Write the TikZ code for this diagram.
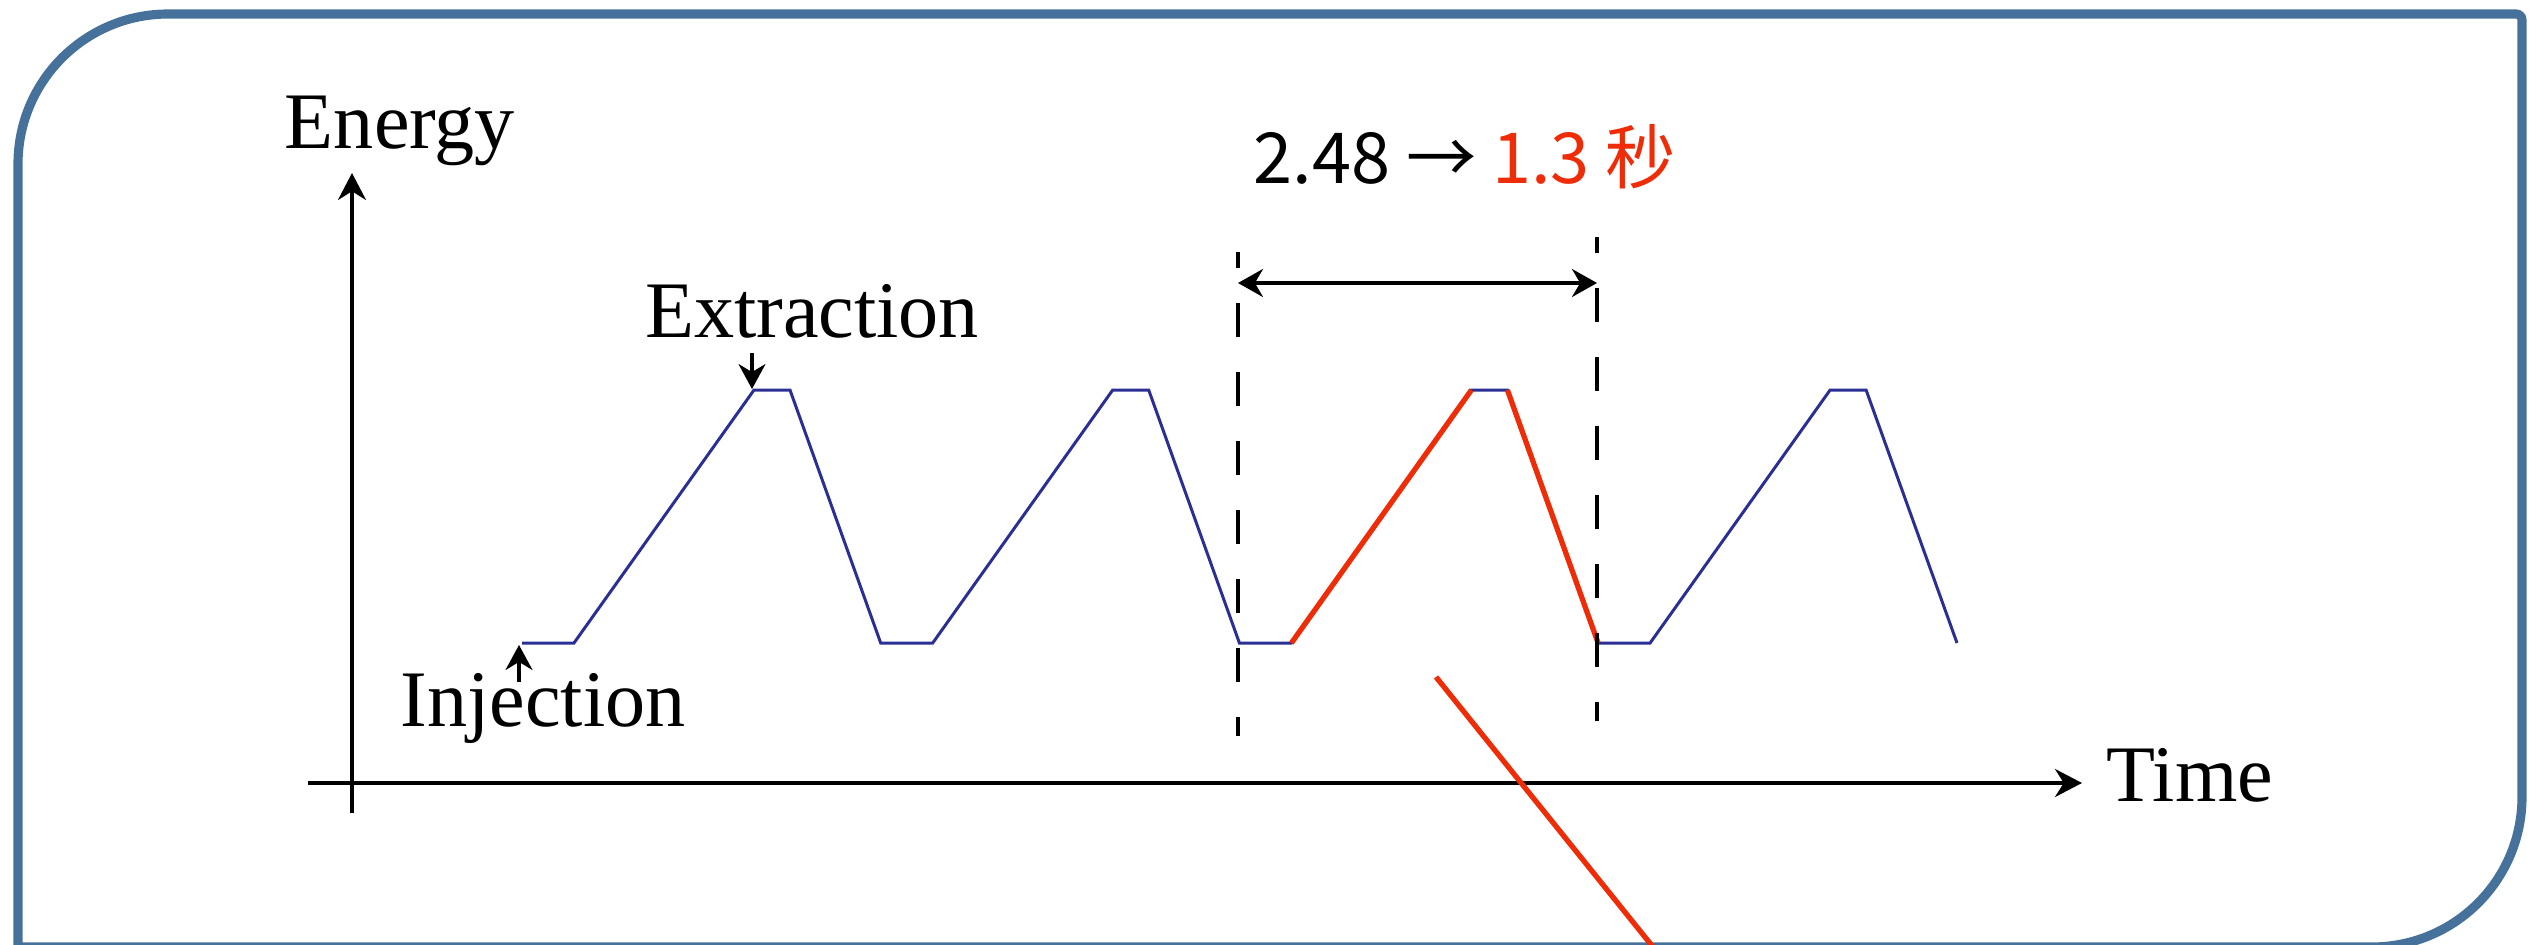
\documentclass[tikz,border=0pt]{standalone}
\usepackage{fontspec}
\setmainfont{Liberation Serif}
\newfontfamily\cjkfont{Noto Sans CJK SC}
\usepackage{tikz}
\usetikzlibrary{arrows.meta,positioning}
\usepackage{xcolor}
\definecolor{framecolor}{RGB}{70,113,155}
\definecolor{cyclecolor}{RGB}{43,47,147}
\definecolor{fastcolor}{RGB}{238,44,8}

\begin{document}
\begin{tikzpicture}[x=0.01cm, y=-0.01cm,
    frame/.style={draw=framecolor, line width=2.6pt},
    axis/.style={-{Stealth[length=0.27cm, width=0.28cm]}, line width=0.9pt},
    pointer/.style={-{Stealth[length=0.25cm, width=0.27cm]}, line width=0.9pt},
    span/.style={{Stealth[length=0.25cm, width=0.28cm]}-{Stealth[length=0.25cm, width=0.28cm]}, line width=0.9pt},
    marker/.style={line width=0.9pt, dash pattern=on 0.34cm off 0.35cm, dash phase=0.18cm},
    cycle/.style={draw=cyclecolor, line width=0.85pt},
    fast/.style={draw=fastcolor, line width=1.5pt},
    textlabel/.style={font=\fontsize{22.8}{27}\selectfont, inner sep=0pt},
    title/.style={font=\cjkfont\fontsize{20}{24}\selectfont, inner sep=0pt}
]
\useasboundingbox (0,0) rectangle (2541,945);

% Frame
\draw[frame] (18,947) [rounded corners=1.5cm] -- (18,14) [rounded corners=0.06cm] -- (2522,14)
    [rounded corners=1.5cm] -- (2522,947) [sharp corners] -- cycle;

% Axes
\coordinate (ybottom) at (352,813);
\coordinate (ytop) at (352,173);
\coordinate (xleft) at (308,783);
\coordinate (xright) at (2082,783);
\draw[axis] (ybottom) -- (ytop);
\draw[axis] (xleft) -- (xright);

% Axis labels
\node[textlabel, anchor=base] (energy) at (400,148) {Energy};
\node[textlabel, anchor=base west] (time) at (2106,801) {Time};

% Acceleration cycles
\foreach \i in {0,...,3} {
    \pgfmathsetmacro\xs{522+358.7*\i}
    \coordinate (lo\i) at (\xs,643);
    \coordinate (up\i) at (\xs+52,643);
    \coordinate (top\i) at (\xs+232,390);
    \coordinate (dn\i) at (\xs+268,390);
}
\coordinate (last) at (1957,643);
\draw[cycle] (lo0) -- (up0) -- (top0) -- (dn0) -- (lo1) -- (up1) -- (top1) -- (dn1)
    -- (lo2) -- (up2) -- (top2) -- (dn2) -- (lo3) -- (up3) -- (top3) -- (dn3) -- (last);
\draw[fast] (up2) -- (top2);
\draw[fast] (dn2) -- (lo3);

% Injection and extraction
\node[textlabel, anchor=base] (injection) at (543,726) {Injection};
\node[textlabel, anchor=base] (extraction) at (812,337) {Extraction};
\coordinate (injtail) at (519,682);
\coordinate (injtip) at (519,645);
\coordinate (exttail) at (752,353);
\coordinate (exttip) at (752,389);
\draw[pointer] (injtail) -- (injtip);
\draw[pointer] (exttail) -- (exttip);

% Period markers
\coordinate (lefttop) at (1238,252);
\coordinate (leftbot) at (1238,736);
\coordinate (righttop) at (1597,237);
\coordinate (rightbot) at (1597,721);
\draw[marker] (lefttop) -- (leftbot);
\draw[marker] (righttop) -- (rightbot);
\coordinate (spanL) at (1238,283);
\coordinate (spanR) at (1597,283);
\draw[span] (spanL) -- (spanR);
\node[title, anchor=base] (period) at (1465,183) {2.48 → \textcolor{fastcolor}{1.3 秒}};

% Callout line
\coordinate (callA) at (1436,677);
\coordinate (callB) at (1653,947);
\draw[fast] (callA) -- (callB);

\end{tikzpicture}
\end{document}
